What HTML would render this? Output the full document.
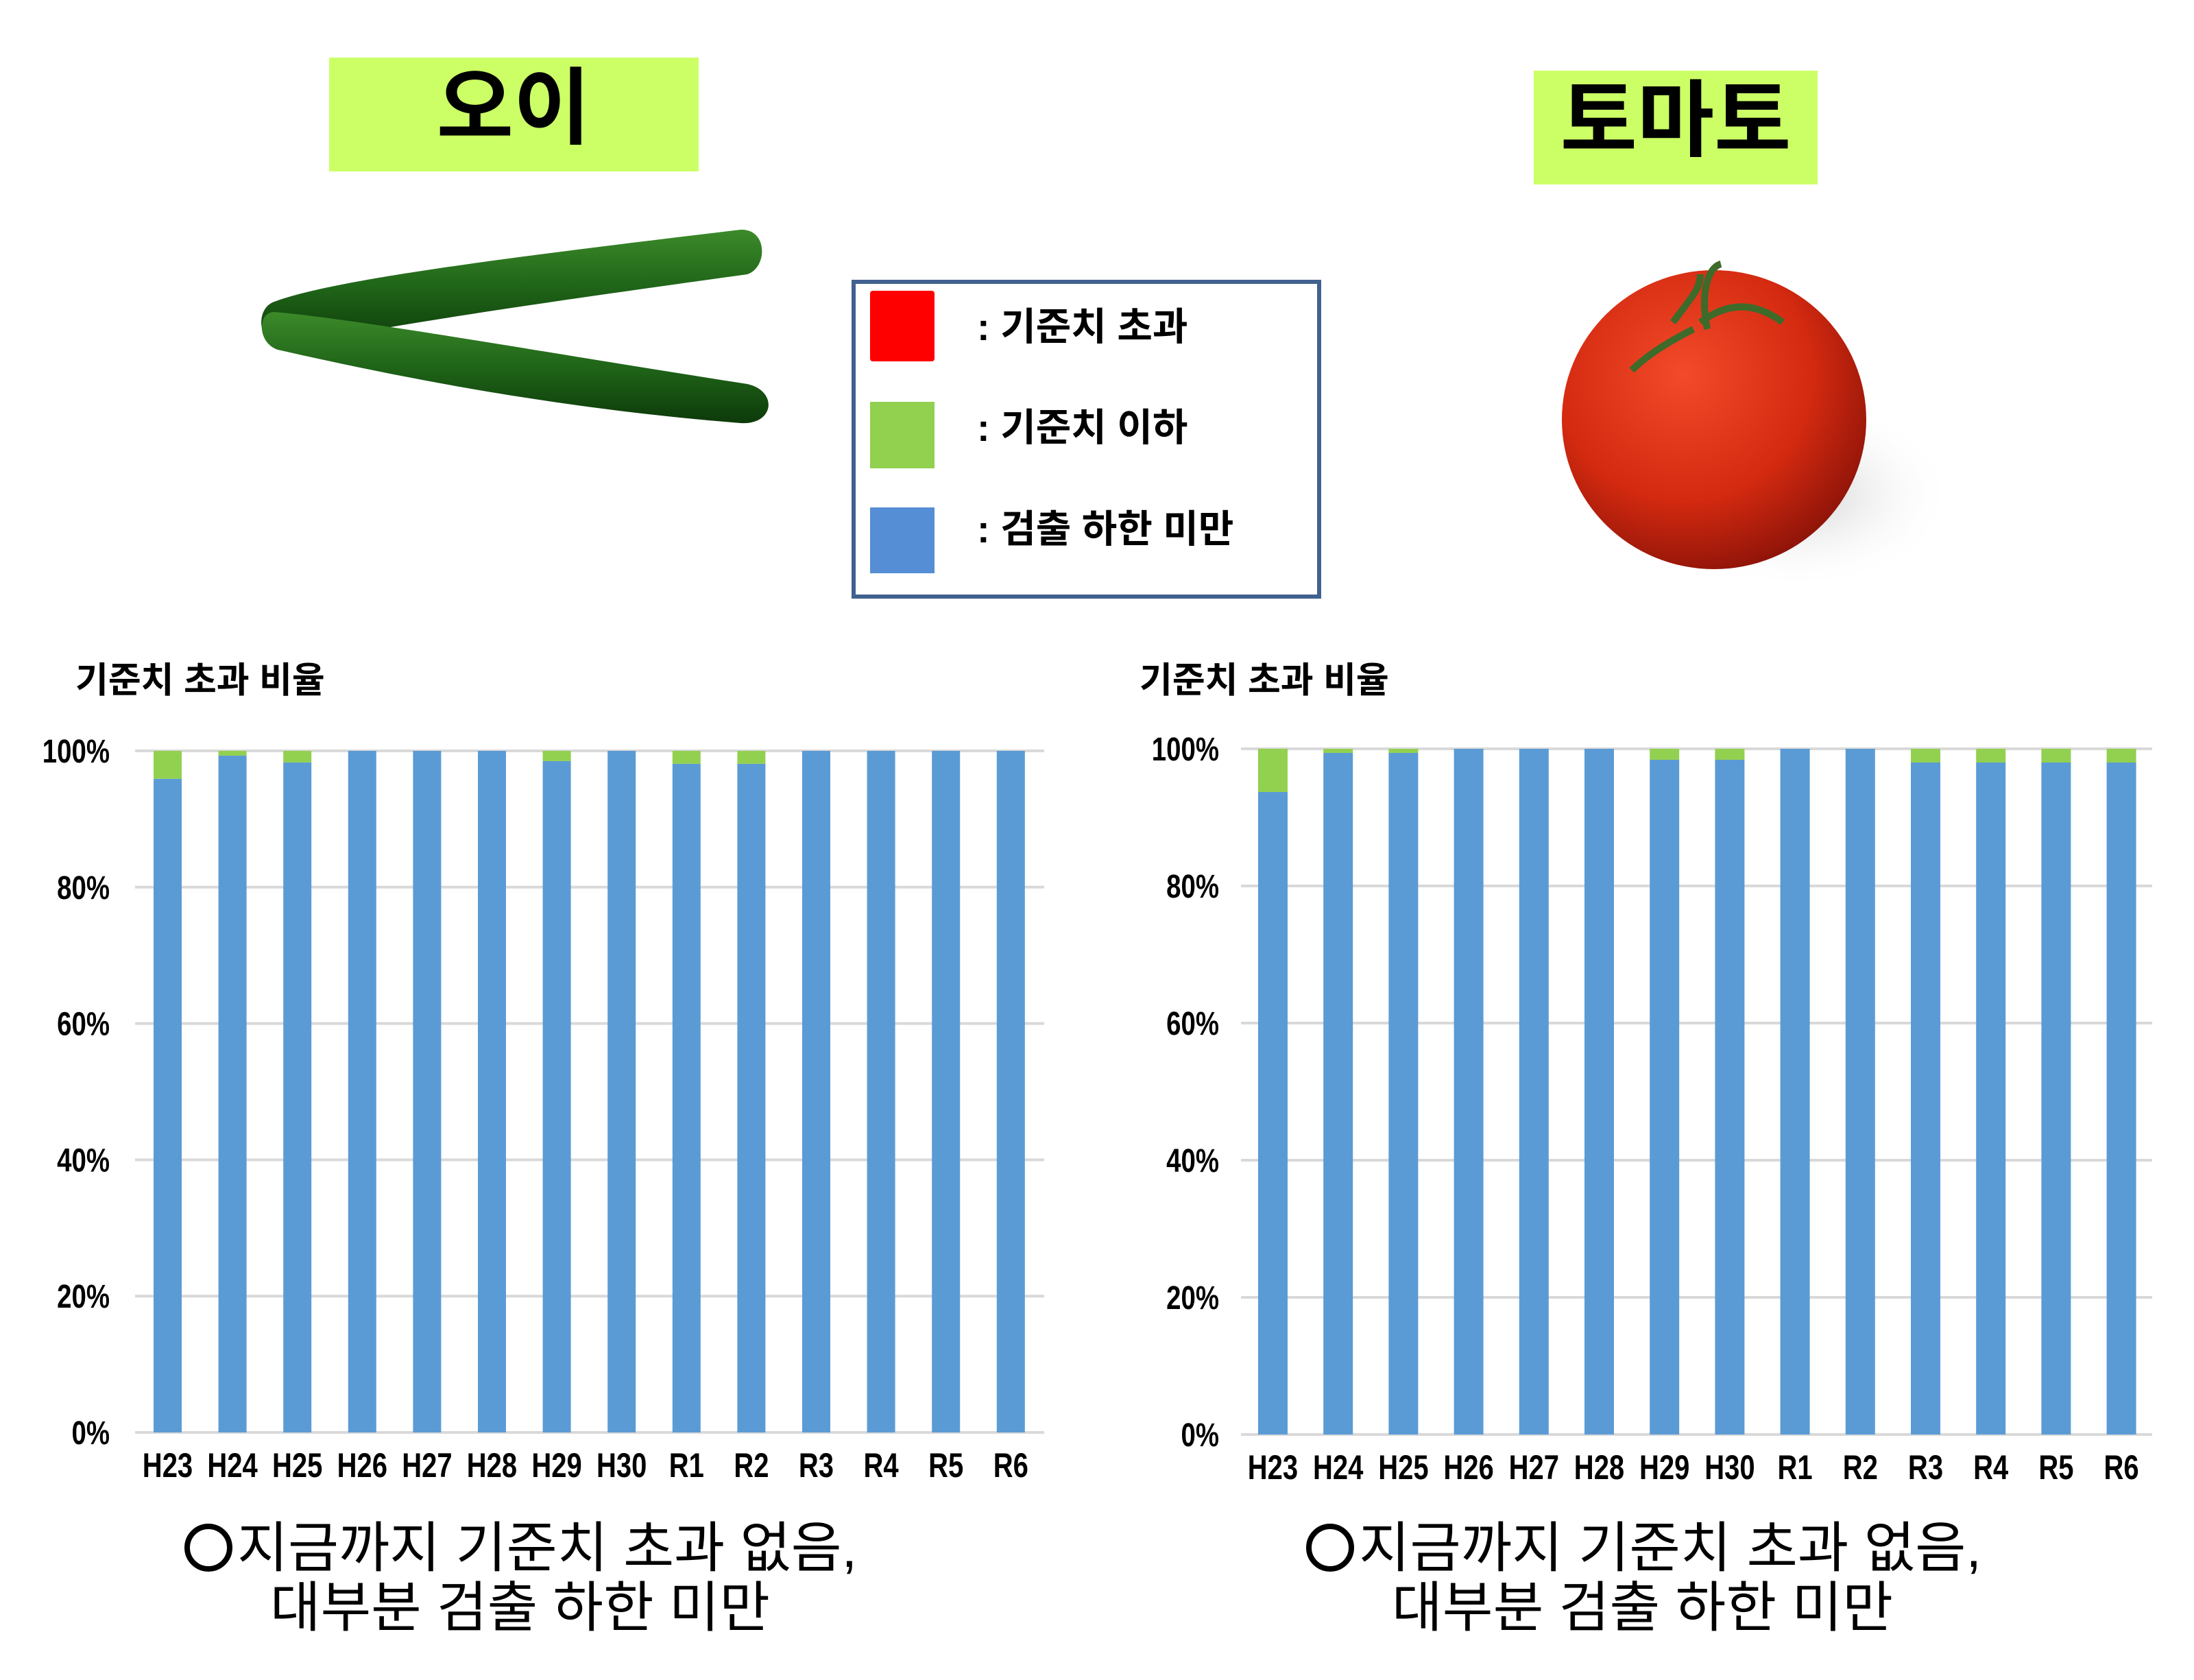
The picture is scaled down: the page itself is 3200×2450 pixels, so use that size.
<!DOCTYPE html>
<html><head><meta charset="utf-8"><style>
html,body{margin:0;padding:0;background:#fff;}
body{width:3200px;height:2450px;position:relative;overflow:hidden;font-family:"Liberation Sans","Noto Sans CJK KR",sans-serif;}
.abs{position:absolute;}
</style></head><body>
<svg class="abs" style="left:0;top:0" width="3200" height="2450" xmlns="http://www.w3.org/2000/svg">
<defs>
<radialGradient id="tg" cx="0.4" cy="0.35" r="0.7">
<stop offset="0" stop-color="#f24a2a"/><stop offset="0.6" stop-color="#d42a10"/><stop offset="1" stop-color="#8a1208"/>
</radialGradient>
<radialGradient id="sh" cx="0.5" cy="0.5" r="0.5">
<stop offset="0" stop-color="#bbb" stop-opacity="0.7"/><stop offset="1" stop-color="#fff" stop-opacity="0"/>
</radialGradient>
<linearGradient id="cg" x1="0" y1="0" x2="0" y2="1">
<stop offset="0" stop-color="#3c8a2a"/><stop offset="0.5" stop-color="#1f6418"/><stop offset="1" stop-color="#0d3a0a"/>
</linearGradient>
</defs>
<rect x="480" y="84" width="539" height="166" fill="#ccff66"/>
<text x="749" y="200" font-size="122" font-weight="bold" text-anchor="middle" font-family="Liberation Sans, Noto Sans CJK KR, sans-serif">오이</text>
<rect x="2237" y="103" width="414" height="166" fill="#ccff66"/>
<text x="2444" y="218" font-size="122" font-weight="bold" text-anchor="middle" font-family="Liberation Sans, Noto Sans CJK KR, sans-serif">토마토</text>
<path d="M400,440 C480,410 700,380 1080,335 C1120,333 1120,390 1090,400 C800,440 560,475 420,505 C375,510 370,450 400,440Z" fill="url(#cg)"/>
<path d="M400,455 C520,465 800,515 1090,560 C1135,570 1130,620 1080,617 C800,595 560,545 405,510 C375,500 375,455 400,455Z" fill="url(#cg)"/>
<ellipse cx="2620" cy="720" rx="230" ry="140" fill="url(#sh)"/>
<ellipse cx="2500" cy="612" rx="222" ry="218" fill="url(#tg)"/>
<path d="M2440,470 C2470,430 2480,420 2480,400 M2480,470 C2520,440 2560,440 2600,470 M2470,480 C2430,500 2400,520 2380,540 M2490,480 C2480,430 2490,390 2510,385" stroke="#3e6a2a" stroke-width="10" fill="none"/>
<rect x="1245" y="411" width="679" height="459" fill="#fff" stroke="#41618f" stroke-width="6"/>
<rect x="1269" y="424" width="94" height="103" rx="4" fill="#ff0000"/>
<rect x="1269" y="586" width="94" height="97" fill="#92d050"/>
<rect x="1269" y="740" width="94" height="96" fill="#558ed5"/>
<g font-size="56" font-weight="bold" font-family="Liberation Sans, Noto Sans CJK KR, sans-serif">
<text x="1425" y="496">: 기준치 초과</text>
<text x="1425" y="643">: 기준치 이하</text>
<text x="1425" y="791">: 검출 하한 미만</text>
</g>
<g font-size="52" font-weight="bold" font-family="Liberation Sans, Noto Sans CJK KR, sans-serif">
<text x="110" y="1010">기준치 초과 비율</text>
<text x="1662" y="1010">기준치 초과 비율</text>
</g>
<g id="charts"></g>
<circle cx="304" cy="2257" r="31" fill="none" stroke="#000" stroke-width="8"/>
<circle cx="1940" cy="2257" r="31" fill="none" stroke="#000" stroke-width="8"/>
<g font-size="80" font-family="Liberation Sans, Noto Sans CJK KR, sans-serif">
<text x="346" y="2285" textLength="904" lengthAdjust="spacingAndGlyphs">지금까지 기준치 초과 없음,</text>
<text x="394" y="2372" textLength="729" lengthAdjust="spacingAndGlyphs">대부분 검출 하한 미만</text>
<text x="1982" y="2285" textLength="908" lengthAdjust="spacingAndGlyphs">지금까지 기준치 초과 없음,</text>
<text x="2030" y="2372" textLength="731" lengthAdjust="spacingAndGlyphs">대부분 검출 하한 미만</text>
</g>
</svg>
<script>
const NS="http://www.w3.org/2000/svg";
const g=document.getElementById('charts');
function el(t,a,txt){const e=document.createElementNS(NS,t);for(const k in a)e.setAttribute(k,a[k]);if(txt)e.textContent=txt;g.appendChild(e);return e;}
const labs=["H23","H24","H25","H26","H27","H28","H29","H30","R1","R2","R3","R4","R5","R6"];
function chart(gx0,gx1,y100,y0,b0,sp,w,greens,lx){
  for(let i=0;i<=5;i++){const y=y0-(y0-y100)*i/5;
    el('line',{x1:gx0,x2:gx1,y1:y,y2:y,stroke:'#d9d9d9','stroke-width':4});
    el('text',{x:lx,y:y+17,'font-size':48,'font-weight':'bold','text-anchor':'end','font-family':'Liberation Sans Narrow, Liberation Sans, sans-serif',transform:`translate(${lx},0) scale(0.8,1) translate(${-lx},0)`},(i*20)+'%');}
  labs.forEach((l,i)=>{const x=b0+sp*i;const h=y0-y100;const gr=greens[i]/100*h;
    el('rect',{x:x,y:y100+gr,width:w,height:h-gr,fill:'#5b9bd5'});
    if(gr>0)el('rect',{x:x,y:y100,width:w,height:gr,fill:'#92d050'});
    const cx=x+w/2;
    el('text',{x:cx,y:y0+65,'font-size':50,'font-weight':'bold','text-anchor':'middle','font-family':'Liberation Sans Narrow, Liberation Sans, sans-serif',transform:`translate(${cx},0) scale(0.8,1) translate(${-cx},0)`},l);
  });
}
chart(197,1523,1095,2089,224,94.6,41,[4.1,0.7,1.7,0,0,0,1.5,0,1.9,1.9,0,0,0,0],160);
chart(1810,3139,1092,2092,1835,95.2,43,[6.3,0.6,0.6,0,0,0,1.6,1.6,0,0,2,2,2,2],1778);
</script>
</body></html>
